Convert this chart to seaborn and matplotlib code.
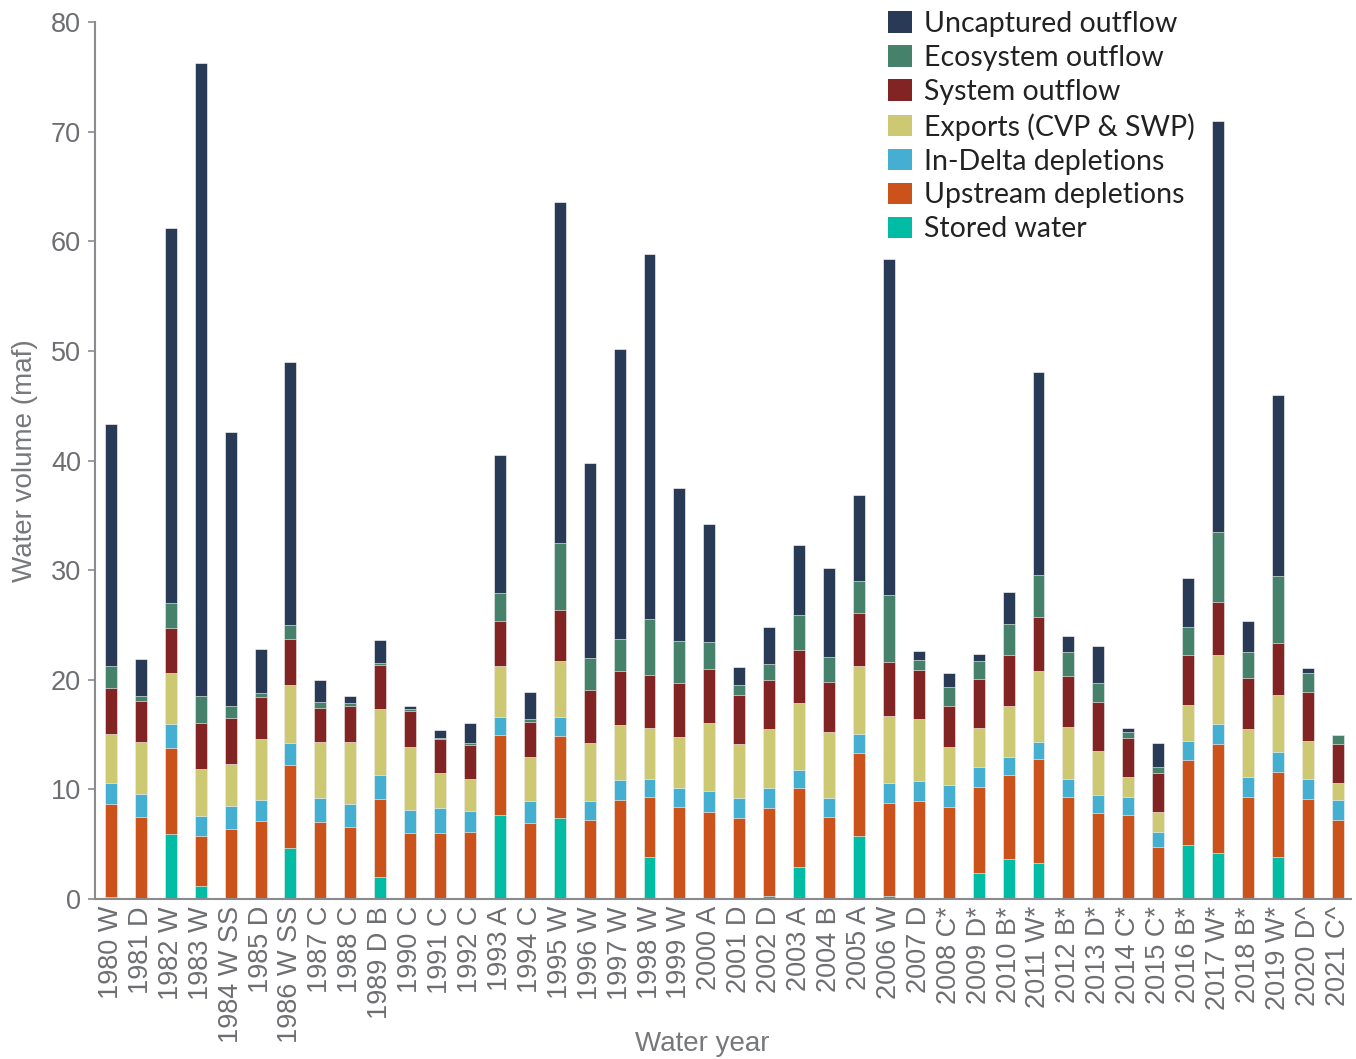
import numpy as np
import pandas as pd
import matplotlib
matplotlib.use("Agg")
import matplotlib.pyplot as plt
import seaborn as sns
from matplotlib.patches import Patch

# -----------------------------
# DATA (maf)
# -----------------------------
years = ["1980 W", "1981 D", "1982 W", "1983 W", "1984 W SS", "1985 D", "1986 W SS",
         "1987 C", "1988 C", "1989 D B", "1990 C", "1991 C", "1992 C", "1993 A",
         "1994 C", "1995 W", "1996 W", "1997 W", "1998 W", "1999 W", "2000 A",
         "2001 D", "2002 D", "2003 A", "2004 B", "2005 A", "2006 W", "2007 D",
         "2008 C*", "2009 D*", "2010 B*", "2011 W*", "2012 B*", "2013 D*", "2014 C*",
         "2015 C*", "2016 B*", "2017 W*", "2018 B*", "2019 W*", "2020 D^", "2021 C^"]

stored = [0.2, 0, 5.9, 1.2, 0, 0, 4.65, 0, 0, 2.0, 0, 0, 0, 7.65, 0, 7.4, 0, 0, 3.8, 0, 0,
          0, 0.25, 2.9, 0, 5.75, 0.25, 0, 0, 2.35, 3.65, 3.3, 0, 0, 0, 0, 4.9, 4.2, 0, 3.8, 0, 0]
upstream = [8.5, 7.45, 7.9, 4.55, 6.35, 7.1, 7.55, 7.0, 6.6, 7.15, 6.05, 6.0, 6.15, 7.35,
            6.95, 7.5, 7.2, 9.05, 5.55, 8.4, 7.95, 7.4, 8.1, 7.2, 7.5, 7.55, 8.55, 8.95,
            8.4, 7.85, 7.65, 9.45, 9.3, 7.9, 7.65, 4.75, 7.8, 9.95, 9.3, 7.8, 9.1, 7.25]
in_delta = [1.9, 2.15, 2.2, 1.85, 2.15, 1.95, 2.0, 2.25, 2.1, 2.15, 2.05, 2.3, 1.85, 1.6,
            2.0, 1.7, 1.75, 1.85, 1.65, 1.7, 1.95, 1.8, 1.75, 1.65, 1.7, 1.75, 1.8, 1.8,
            2.0, 1.85, 1.7, 1.55, 1.65, 1.6, 1.65, 1.4, 1.7, 1.8, 1.85, 1.8, 1.85, 1.8]
exports = [4.5, 4.7, 4.6, 4.3, 3.85, 5.55, 5.35, 5.05, 5.65, 6.0, 5.8, 3.2, 3.0, 4.7,
           4.05, 5.15, 5.25, 5.0, 4.6, 4.7, 6.2, 4.95, 5.45, 6.15, 6.0, 6.25, 6.15, 5.65,
           3.5, 3.55, 4.65, 6.55, 4.75, 4.05, 1.85, 1.8, 3.3, 6.35, 4.4, 5.2, 3.5, 1.5]
system = [4.2, 3.8, 4.15, 4.2, 4.15, 3.8, 4.2, 3.15, 3.3, 4.1, 3.3, 3.1, 3.1, 4.05,
          3.2, 4.65, 4.85, 4.9, 4.8, 4.9, 4.9, 4.5, 4.45, 4.85, 4.65, 4.8, 4.85, 4.5,
          3.75, 4.45, 4.65, 4.85, 4.65, 4.45, 3.55, 3.55, 4.55, 4.8, 4.65, 4.8, 4.4, 3.6]
ecosystem = [2.0, 0.4, 2.25, 2.4, 1.1, 0.4, 1.25, 0.55, 0.2, 0.1, 0.15, 0.1, 0.1, 2.6,
             0.2, 6.1, 2.95, 2.9, 5.15, 3.85, 2.5, 0.85, 1.45, 3.2, 2.25, 2.95, 6.15, 0.95,
             1.7, 1.65, 2.8, 3.9, 2.15, 1.7, 0.55, 0.55, 2.55, 6.4, 2.35, 6.1, 1.75, 0.8]
uncaptured = [22.0, 3.4, 34.2, 57.8, 25.0, 4.0, 24.0, 2.0, 0.65, 2.1, 0.3, 0.7, 1.85, 12.55,
              2.45, 31.1, 17.8, 26.5, 33.3, 14.0, 10.7, 1.7, 3.35, 6.35, 8.15, 7.85, 30.65, 0.75,
              1.25, 0.7, 2.9, 18.5, 1.5, 3.35, 0.4, 2.15, 4.5, 37.5, 2.85, 16.5, 0.5, 0]

layers = ["Stored water", "Upstream depletions", "In-Delta depletions",
          "Exports (CVP & SWP)", "System outflow", "Ecosystem outflow", "Uncaptured outflow"]
colors = ["#00bca5", "#cb521b", "#45afd2", "#cdc972", "#832424", "#46826b", "#283a55"]

df = pd.DataFrame({"year": years, layers[0]: stored, layers[1]: upstream,
                   layers[2]: in_delta, layers[3]: exports, layers[4]: system,
                   layers[5]: ecosystem, layers[6]: uncaptured})

# -----------------------------
# PLOT
# -----------------------------
sns.set_style("white")
plt.rcParams["font.family"] = ["Liberation Sans", "DejaVu Sans"]
grey = "#6d6e71"

fig = plt.figure(figsize=(13.56, 10.59), dpi=100)
ax = fig.add_axes([0.070, 0.151, 0.926, 0.828])

# stacked bars: draw cumulative totals from the top layer down
cum = df[layers].cumsum(axis=1)
for name, col in reversed(list(zip(layers, colors))):
    sns.barplot(x=df["year"], y=cum[name], color=col, width=0.4, saturation=1,
                edgecolor="white", linewidth=0.4, ax=ax)

ax.set_ylim(0, 80)
ax.set_xlim(-0.535, 41.43)
ax.set_yticks(range(0, 81, 10))
ax.tick_params(axis="y", direction="out", length=5, width=1.2, color="#8a8b8e",
               labelsize=19.5, labelcolor=grey, pad=5, left=True)
ax.tick_params(axis="x", length=0, labelsize=19.5, labelcolor=grey, pad=5)
plt.setp(ax.get_xticklabels(), rotation=90)

for side in ["top", "right"]:
    ax.spines[side].set_visible(False)
for side in ["left", "bottom"]:
    ax.spines[side].set_color("#8a8b8e")
    ax.spines[side].set_linewidth(1.5)

ax.set_xlabel("Water year", fontsize=20, color="#77787b")
ax.set_ylabel("Water volume (maf)", fontsize=20, color="#77787b")
ax.xaxis.set_label_coords(0.4837, -0.150)
ax.yaxis.set_label_coords(-0.0454, 0.5)

handles = [Patch(facecolor=c, edgecolor="none", label=n)
           for n, c in reversed(list(zip(layers, colors)))]
fig.legend(handles=handles, loc="upper left", bbox_to_anchor=(0.6549, 0.9896),
           frameon=False, prop={"family": ["Lato", "DejaVu Sans"], "size": 20.5},
           handlelength=0.84, handleheight=0.77, handletextpad=0.42,
           labelspacing=0.28, borderpad=0, borderaxespad=0, labelcolor="#222222")

fig.savefig("out.png", dpi=100)
